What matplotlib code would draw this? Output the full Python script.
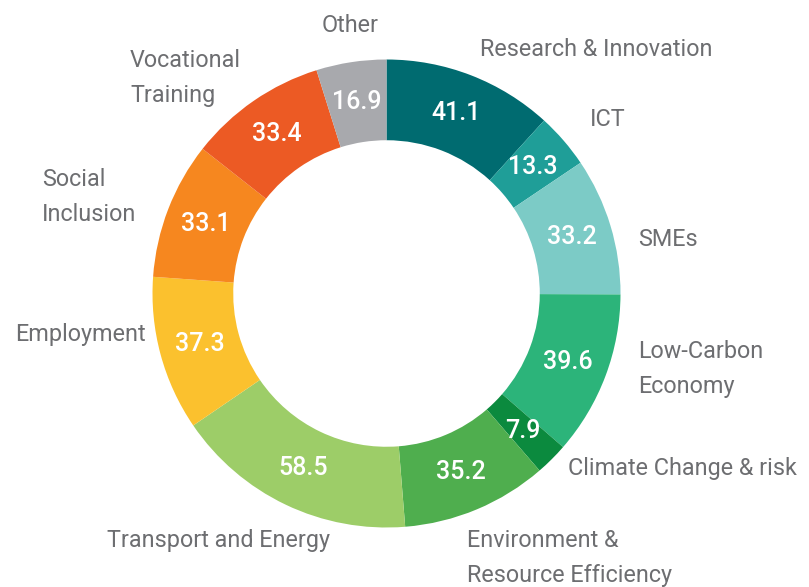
import matplotlib.pyplot as plt
import numpy as np

categories = ["Research & Innovation", "ICT", "SMEs", "Low-Carbon\nEconomy",
              "Climate Change & risk", "Environment &\nResource Efficiency",
              "Transport and Energy", "Employment", "Social\nInclusion",
              "Vocational\nTraining", "Other"]
values = [41.1, 13.3, 33.2, 39.6, 7.9, 35.2, 58.5, 37.3, 33.1, 33.4, 16.9]
colors = ["#006b70", "#1f9e98", "#7ccbc6", "#2cb47a", "#0b8a3e", "#4fae4e",
          "#9dcd68", "#fbc12e", "#f6871f", "#ec5a24", "#a8a9ad"]

# label anchor points in pixel coords (x, y from top), and alignment
label_pos = [(480, 50, "left"), (590, 120, "left"), (638, 240, "left"),
             (638, 369, "left"), (568, 469, "left"), (467, 558, "left"),
             (107, 540, "left"), (146, 335, "right"), (42, 197, "left"),
             (130, 78, "left"), (350, 26, "center")]

W, H = 809, 587
fig = plt.figure(figsize=(W / 100, H / 100), dpi=100)
ax = fig.add_axes([0, 0, 1, 1])

cx, cy, R = 386.5, H - 293.5, 234
width = 0.345 * R

wedges, _ = ax.pie(values, colors=colors, startangle=90, counterclock=False,
                   center=(cx, cy), radius=R,
                   wedgeprops=dict(width=width, edgecolor="none"))

# pie resets the limits, so set them afterwards
ax.set_xlim(0, W)
ax.set_ylim(0, H)
ax.set_aspect("equal")
ax.axis("off")

fonts = ["Roboto", "DejaVu Sans"]

# value labels in the middle of each ring segment
rmid = R - width / 2
for w, v in zip(wedges, values):
    ang = np.deg2rad((w.theta1 + w.theta2) / 2)
    ax.text(cx + rmid * np.cos(ang), cy + rmid * np.sin(ang), f"{v:.1f}",
            ha="center", va="center", color="white", fontsize=18,
            fontweight="medium", family=fonts)

for name, (x, y, ha) in zip(categories, label_pos):
    ax.text(x, H - y, name, ha=ha, va="center", color="#6d6e71",
            fontsize=16.8, family=fonts, linespacing=1.65)

fig.savefig("out.png", dpi=100)
